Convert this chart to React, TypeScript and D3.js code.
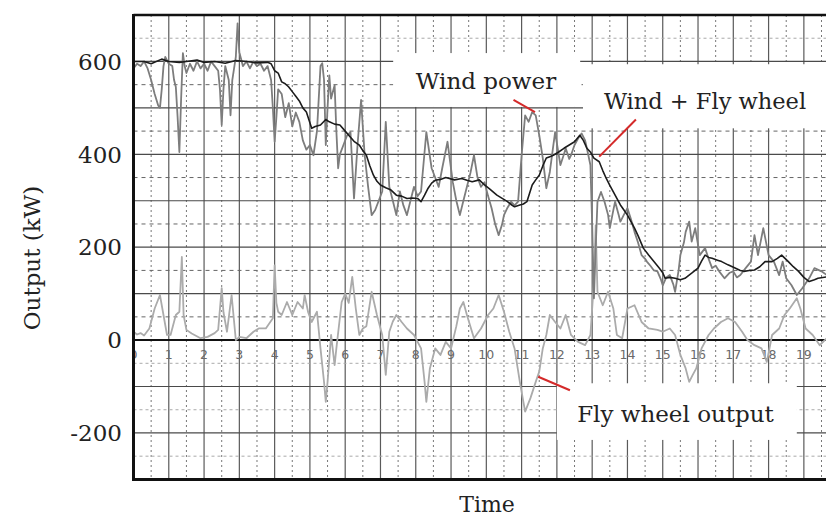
import React from 'react';
import * as d3 from 'd3';

// values: [time (h), output (kW)]
const windPower: [number, number][] = [
  [0, 585], [0.1, 595], [0.2, 590], [0.3, 600], [0.4, 585], [0.5, 560], [0.6, 530], [0.7, 505], [0.75, 500],
  [0.8, 540], [0.85, 590], [0.9, 610], [1.0, 595], [1.1, 590], [1.15, 560], [1.2, 545], [1.25, 480], [1.3, 405],
  [1.35, 520], [1.4, 618], [1.45, 590], [1.5, 575], [1.6, 595], [1.7, 580], [1.8, 600], [1.9, 585], [2.0, 595],
  [2.1, 580], [2.2, 600], [2.3, 590], [2.4, 580], [2.45, 540], [2.5, 463], [2.55, 540], [2.6, 590], [2.7, 560],
  [2.75, 484], [2.8, 560], [2.9, 610], [2.95, 682], [3.0, 620], [3.1, 590], [3.2, 600], [3.3, 585], [3.4, 600],
  [3.5, 590], [3.6, 595], [3.7, 580], [3.8, 590], [3.9, 560], [3.95, 500], [4.0, 427], [4.05, 480], [4.1, 540],
  [4.2, 530], [4.3, 480], [4.4, 510], [4.5, 460], [4.6, 490], [4.7, 470], [4.8, 430], [4.9, 410], [5.0, 420],
  [5.1, 398], [5.2, 450], [5.25, 520], [5.3, 590], [5.35, 596], [5.4, 560], [5.45, 420], [5.5, 500], [5.55, 570],
  [5.6, 520], [5.7, 549], [5.75, 450], [5.8, 370], [5.85, 400], [5.95, 420], [6.05, 440], [6.15, 448], [6.25, 305],
  [6.35, 420], [6.45, 517], [6.55, 400], [6.65, 330], [6.75, 269], [6.85, 280], [6.95, 300], [7.05, 320],
  [7.15, 470], [7.25, 330], [7.35, 300], [7.45, 269], [7.55, 320], [7.65, 290], [7.75, 269], [7.85, 300],
  [7.95, 330], [8.05, 310], [8.15, 320], [8.3, 448], [8.45, 370], [8.55, 350], [8.65, 330], [8.75, 370],
  [8.9, 427], [9.05, 340], [9.15, 300], [9.25, 269], [9.35, 300], [9.45, 330], [9.55, 360], [9.65, 398],
  [9.75, 350], [9.85, 330], [9.95, 340], [10.05, 310], [10.15, 284], [10.25, 250], [10.35, 226], [10.45, 250],
  [10.5, 269], [10.6, 285], [10.7, 298], [10.8, 290], [10.9, 298], [11.0, 398], [11.1, 484], [11.2, 470],
  [11.3, 491], [11.4, 484], [11.5, 441], [11.6, 392], [11.7, 327], [11.8, 362], [11.9, 420], [11.95, 448],
  [12.05, 400], [12.1, 377], [12.2, 400], [12.25, 413], [12.35, 390], [12.4, 398], [12.5, 420], [12.6, 434],
  [12.7, 445], [12.8, 430], [12.85, 413], [12.95, 377], [13.0, 250], [13.05, 90], [13.1, 200], [13.15, 298],
  [13.25, 319], [13.35, 298], [13.45, 270], [13.5, 241], [13.6, 280], [13.65, 298], [13.75, 270], [13.8, 255],
  [13.9, 270], [14.0, 284], [14.1, 260], [14.2, 233], [14.3, 210], [14.4, 183], [14.5, 175], [14.55, 169],
  [14.65, 160], [14.75, 150], [14.85, 148], [14.95, 130], [15.0, 118], [15.1, 135], [15.2, 140], [15.3, 120],
  [15.35, 104], [15.45, 150], [15.5, 183], [15.6, 210], [15.65, 233], [15.75, 255], [15.82, 212], [15.92, 241],
  [16.05, 183], [16.2, 198], [16.3, 175], [16.4, 155], [16.5, 160], [16.6, 148], [16.75, 133], [16.9, 145],
  [17.0, 148], [17.1, 135], [17.2, 140], [17.35, 155], [17.5, 169], [17.6, 226], [17.7, 183], [17.85, 241],
  [18.0, 183], [18.15, 169], [18.3, 140], [18.4, 169], [18.5, 133], [18.65, 118], [18.8, 97], [18.95, 111],
  [19.15, 133], [19.3, 155], [19.5, 148], [19.65, 140],
];

const windPlusFlywheel: [number, number][] = [
  [0, 600], [0.3, 600], [0.5, 595], [0.8, 605], [1.0, 600], [1.3, 598], [1.5, 600], [1.8, 603], [2.0, 598],
  [2.3, 600], [2.6, 596], [2.9, 602], [3.2, 600], [3.5, 597], [3.8, 598], [3.9, 595], [4.0, 580], [4.1, 575],
  [4.2, 556], [4.3, 552], [4.4, 545], [4.5, 535], [4.6, 525], [4.7, 515], [4.8, 500], [4.9, 491], [5.05, 456],
  [5.15, 460], [5.3, 463], [5.45, 475], [5.55, 470], [5.7, 465], [5.85, 463], [6.0, 450], [6.1, 441], [6.25, 428],
  [6.4, 420], [6.5, 408], [6.6, 398], [6.7, 375], [6.8, 355], [6.9, 342], [7.0, 334], [7.15, 328], [7.3, 323],
  [7.45, 312], [7.6, 310], [7.75, 305], [7.9, 306], [8.05, 305], [8.15, 298], [8.25, 312], [8.35, 327],
  [8.45, 338], [8.55, 344], [8.7, 346], [8.85, 350], [8.95, 348], [9.1, 345], [9.3, 348], [9.45, 344],
  [9.6, 341], [9.8, 345], [9.95, 334], [10.1, 325], [10.3, 312], [10.45, 305], [10.6, 298], [10.7, 292],
  [10.8, 287], [10.95, 291], [11.05, 293], [11.15, 298], [11.3, 334], [11.4, 345], [11.5, 355], [11.6, 375],
  [11.7, 392], [11.8, 395], [11.9, 398], [12.05, 405], [12.2, 413], [12.35, 420], [12.5, 427], [12.65, 441],
  [12.75, 430], [12.85, 413], [12.95, 405], [13.05, 392], [13.2, 384], [13.3, 365], [13.4, 348], [13.5, 333],
  [13.6, 319], [13.7, 305], [13.8, 291], [13.9, 280], [14.0, 269], [14.1, 255], [14.2, 241], [14.3, 225],
  [14.45, 198], [14.6, 183], [14.75, 169], [14.9, 155], [15.0, 145], [15.07, 133], [15.2, 135], [15.35, 133],
  [15.5, 130], [15.63, 133], [15.82, 144], [16.0, 155], [16.1, 170], [16.2, 183], [16.3, 178], [16.4, 176],
  [16.55, 172], [16.67, 169], [16.85, 162], [17.05, 155], [17.2, 150], [17.3, 148], [17.45, 150], [17.6, 151],
  [17.75, 158], [17.9, 169], [18.1, 169], [18.25, 176], [18.37, 183], [18.45, 177], [18.56, 169], [18.7, 158],
  [18.85, 148], [19.0, 135], [19.15, 126], [19.3, 130], [19.4, 133], [19.65, 136],
];

const flywheelOutput: [number, number][] = [
  [0, 18], [0.1, 12], [0.2, 15], [0.3, 10], [0.4, 20], [0.45, 25], [0.6, 68], [0.75, 97], [0.85, 54], [0.95, 11],
  [1.05, 11], [1.2, 54], [1.3, 61], [1.37, 179], [1.42, 54], [1.5, 22], [1.65, 14], [1.9, 4], [2.1, 7], [2.3, 15],
  [2.4, 22], [2.5, 112], [2.55, 60], [2.65, 18], [2.78, 97], [2.9, 0], [3.0, 7], [3.2, 4], [3.4, 18], [3.55, 25],
  [3.75, 25], [3.95, 47], [4.0, 161], [4.05, 80], [4.1, 61], [4.2, 54], [4.35, 82], [4.5, 54], [4.65, 82],
  [4.8, 68], [4.85, 97], [4.95, 60], [5.05, 39], [5.2, 61], [5.3, -18], [5.4, -90], [5.45, -133], [5.5, -90],
  [5.6, 11], [5.7, -54], [5.75, -18], [5.9, 82], [6.0, 100], [6.1, 80], [6.2, 136], [6.3, 68], [6.4, 11],
  [6.5, 25], [6.6, 30], [6.75, 104], [6.9, 54], [7.05, 11], [7.15, -75], [7.25, 18], [7.35, 40], [7.45, 54],
  [7.6, 39], [7.75, 25], [7.95, 11], [8.15, -18], [8.25, -90], [8.3, -133], [8.4, -61], [8.55, -18], [8.7, -32],
  [8.85, -4], [9.0, -18], [9.15, 30], [9.25, 68], [9.35, 82], [9.45, 54], [9.65, 4], [9.85, 25], [10.05, 54],
  [10.2, 68], [10.35, 97], [10.5, 61], [10.65, 18], [10.8, -18], [10.95, -90], [11.1, -154], [11.25, -125],
  [11.4, -90], [11.5, -68], [11.6, -18], [11.7, 11], [11.8, 54], [11.95, 39], [12.1, 25], [12.25, 54],
  [12.4, 11], [12.6, -4], [12.8, -11], [12.95, 11], [13.05, 125], [13.1, 247], [13.15, 104], [13.3, 75],
  [13.45, 104], [13.6, 68], [13.7, 11], [13.85, 4], [14.0, 68], [14.2, 75], [14.4, 39], [14.6, 25],
  [14.85, 22], [15.0, 18], [15.2, 25], [15.35, 11], [15.5, -32], [15.65, -61], [15.75, -90], [15.85, -75],
  [15.95, -61], [16.1, -18], [16.3, 11], [16.45, 25], [16.65, 39], [16.85, 47], [17.05, 39], [17.25, 18],
  [17.4, 0], [17.6, -11], [17.8, -18], [17.95, -47], [18.1, 11], [18.3, 25], [18.45, 54], [18.6, 68],
  [18.8, 90], [18.9, 68], [19.05, 25], [19.25, 11], [19.45, -11], [19.65, 4],
];

const hourTicks = d3.range(0, 20);
const yTicks = [600, 400, 200, 0, -200];

const W = 826;
const H = 517;
const serif = "'DejaVu Serif', serif";

const App: React.FC = () => {
  const x = d3.scaleLinear().domain([0, 19.65]).range([133.5, 826.8]);
  const y = d3.scaleLinear().domain([-300, 700]).range([479.4, 15]);

  const line = d3.line<[number, number]>()
    .x(d => x(d[0]))
    .y(d => y(d[1]));

  const solidH = d3.range(-200, 701, 100).filter(v => v !== 0 && v !== 700);
  const dashH = [550, 450, 350, 250, 150, 50];
  const lightH = [650, -50, -150, -250];
  const halfHours = d3.range(0.5, 20, 1);

  // white boxes behind the annotations (in data units)
  const boxes = [
    { t0: 7.36, t1: 12.66, v0: 618, v1: 502 },
    { t0: 12.74, t1: 20.5, v0: 594, v1: 456 },
    { t0: 12.0, t1: 18.8, v0: -93, v1: -215 },
  ];

  const pointers = [
    { a: [10.77, 517], b: [11.38, 491] },
    { a: [14.24, 475], b: [13.2, 395] },
    { a: [11.47, -79], b: [12.37, -108] },
  ];

  const left = x(0);
  const top = y(700);
  const bottom = y(-300);

  return (
    <div style={{ position: 'absolute', left: 0, top: 0 }}>
      <svg width={W} height={H} style={{ display: 'block', background: '#fff' }}>
        <defs>
          <clipPath id="plot">
            <rect x={left} y={top} width={W - left} height={bottom - top} />
          </clipPath>
        </defs>

        <g clipPath="url(#plot)">
          {/* grid */}
          {halfHours.map(h => (
            <line key={'hh' + h} x1={x(h)} x2={x(h)} y1={top} y2={bottom}
              stroke="#777" strokeWidth={1} strokeDasharray="2,3" />
          ))}
          {hourTicks.slice(1).map(h => (
            <line key={'h' + h} x1={x(h)} x2={x(h)} y1={top} y2={bottom}
              stroke="#5a5a5a" strokeWidth={1.2} />
          ))}
          {lightH.map(v => (
            <line key={'l' + v} x1={left} x2={W} y1={y(v)} y2={y(v)}
              stroke="#aaa" strokeWidth={1} strokeDasharray="3,3" />
          ))}
          {dashH.map(v => (
            <line key={'d' + v} x1={left} x2={W} y1={y(v)} y2={y(v)}
              stroke="#666" strokeWidth={1} strokeDasharray="4,4" />
          ))}
          {solidH.map(v => (
            <line key={'s' + v} x1={left} x2={W} y1={y(v)} y2={y(v)}
              stroke="#4a4a4a" strokeWidth={1.2} />
          ))}

          {/* hour labels on the zero line */}
          {hourTicks.map(h => (
            <text key={'t' + h} x={x(h)} y={359} textAnchor="middle"
              fontFamily="'DejaVu Sans', sans-serif" fontSize={12.5} fill="#6a6a6a">{h}</text>
          ))}

          {boxes.map((b, i) => (
            <rect key={'b' + i} x={x(b.t0)} y={y(b.v0)} width={x(b.t1) - x(b.t0)}
              height={y(b.v1) - y(b.v0)} fill="#fff" />
          ))}

          <line x1={left} x2={W} y1={y(0)} y2={y(0)} stroke="#111" strokeWidth={2} />

          <path d={line(flywheelOutput) ?? ''} fill="none" stroke="#ababab" strokeWidth={1.8} strokeLinejoin="round" />
          <path d={line(windPower) ?? ''} fill="none" stroke="#7d7d7d" strokeWidth={1.8} strokeLinejoin="round" />
          <path d={line(windPlusFlywheel) ?? ''} fill="none" stroke="#1c1c1c" strokeWidth={1.6} strokeLinejoin="round" />

          {pointers.map((p, i) => (
            <line key={'p' + i} x1={x(p.a[0])} y1={y(p.a[1])} x2={x(p.b[0])} y2={y(p.b[1])}
              stroke="#d42a2a" strokeWidth={2} />
          ))}
        </g>

        {/* frame */}
        <line x1={left} x2={left} y1={top - 1} y2={bottom + 1.5} stroke="#111" strokeWidth={3} />
        <line x1={left} x2={W} y1={top} y2={top} stroke="#111" strokeWidth={2.5} />
        <line x1={left} x2={W} y1={bottom} y2={bottom} stroke="#111" strokeWidth={3} />

        {/* annotations */}
        <text x={486} y={89} textAnchor="middle" fontFamily={serif} fontSize={23} fill="#222">Wind power</text>
        <text x={705} y={108.5} textAnchor="middle" fontFamily={serif} fontSize={22.5} fill="#222">Wind + Fly wheel</text>
        <text x={675.5} y={421.5} textAnchor="middle" fontFamily={serif} fontSize={23} fill="#222">Fly wheel output</text>

        {/* y axis */}
        {yTicks.map(v => (
          <text key={'y' + v} x={122} y={y(v)} dy="0.36em" textAnchor="end"
            fontFamily={serif} fontSize={23} fill="#222">{v}</text>
        ))}
        <text transform={`translate(40,${258}) rotate(-90)`} textAnchor="middle"
          fontFamily={serif} fontSize={23} fill="#222">Output (kW)</text>
        <text x={487} y={512} textAnchor="middle" fontFamily={serif} fontSize={22} fill="#222">Time</text>
      </svg>
    </div>
  );
};

export default App;
